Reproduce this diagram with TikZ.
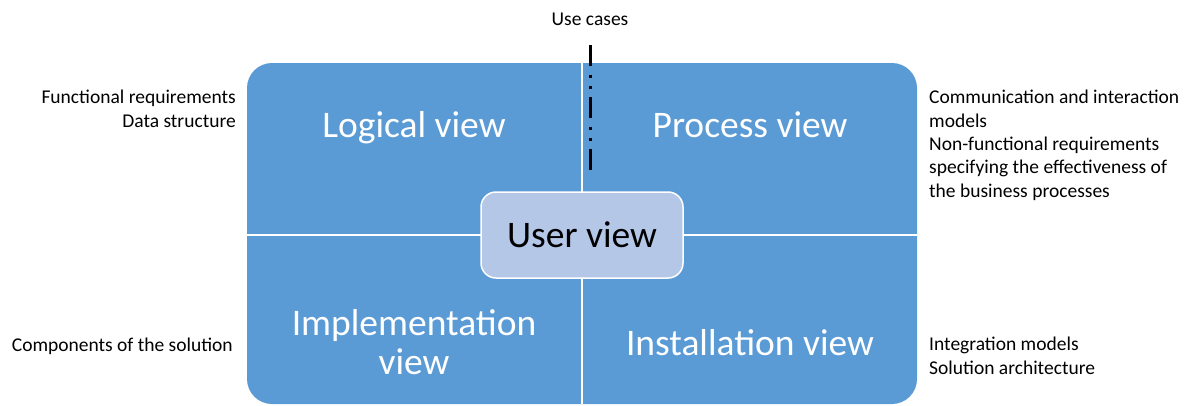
\documentclass[tikz,border=0pt]{standalone}
\usepackage{fontspec}
\setmainfont{Carlito}
\usetikzlibrary{positioning}
\definecolor{viewblue}{HTML}{5B9BD5}
\definecolor{userblue}{HTML}{B4C7E7}

\begin{document}
\begin{tikzpicture}[
    x=1pt, y=-1pt,
    view/.style={
        text=white,
        align=center,
        inner sep=0pt,
        font=\fontsize{37.5}{39}\selectfont
    },
    user/.style={
        rectangle,
        rounded corners=15pt,
        draw=white,
        line width=1.5pt,
        fill=userblue,
        minimum width=202pt,
        minimum height=86pt,
        font=\fontsize{37.5}{39}\selectfont
    },
    note/.style={
        inner sep=0pt,
        font=\fontsize{19.5}{23.3}\selectfont
    },
    divider/.style={
        white,
        line width=1.5pt
    },
    usecase/.style={
        black,
        line width=3pt,
        dash pattern=on 21pt off 8.5pt on 3pt off 8pt on 3pt off 8.5pt
    }
]
\useasboundingbox (0,0) rectangle (1192,405);

% matrix of views
\fill[viewblue, rounded corners=25pt] (247,63) rectangle (917,404);
\draw[divider] (582,63) -- (582,404);
\draw[divider] (247,235) -- (917,235);

% view labels (anchor = baseline of last line)
\node[view, anchor=base] (logical) at (414,137) {Logical view};
\node[view, anchor=base] (process) at (750,137) {Process view};
\node[view, anchor=base] (implementation) at (414,374) {Implementation\\view};
\node[view, anchor=base] (installation) at (750,355) {Installation view};

% USER VIEW box
\node[user] (user) at (582,235) {User view};

% Use cases axis
\coordinate (uc-top) at (590,45);
\coordinate (uc-bottom) at (590,170);
\draw[usecase] (uc-top) -- (uc-bottom);
\node[note, anchor=base] (usecases) at (590,25) {Use cases};

% Notes on the left
\node[note, anchor=base east, align=right] (logical-note) at (236,127) {Functional requirements\\Data structure};
\node[note, anchor=base east, align=right] (impl-note) at (233,351) {Components of the solution};

% Notes on the right
\node[note, anchor=base west, align=left] (process-note) at (929,197) {Communication and interaction\\models\\Non-functional requirements\\specifying the effectiveness of\\the business processes};
\node[note, anchor=base west, align=left] (install-note) at (929,374) {Integration models\\Solution architecture};

\end{tikzpicture}
\end{document}
